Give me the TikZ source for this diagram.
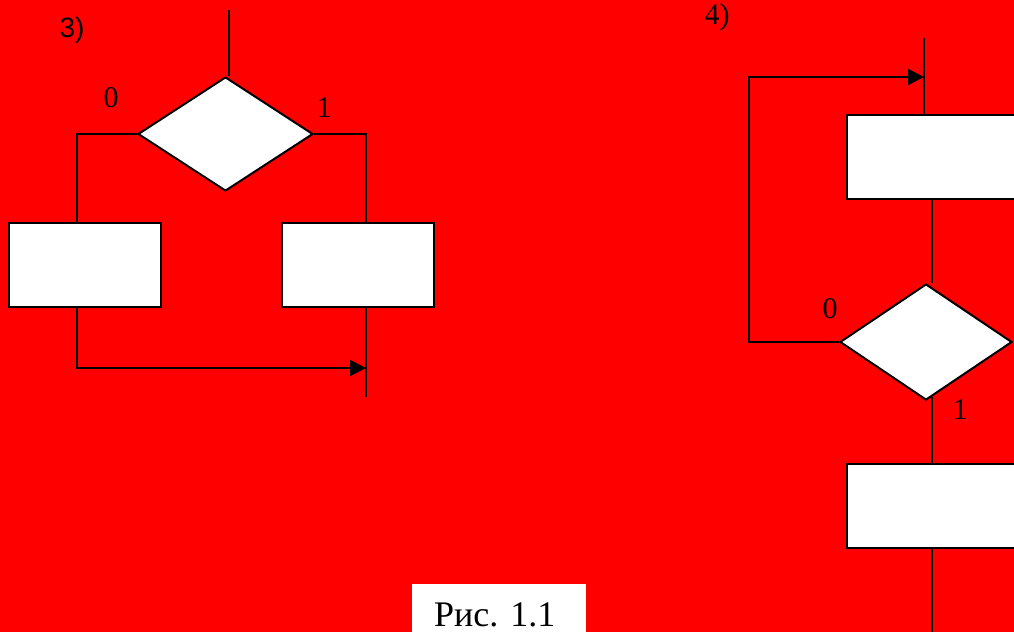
\documentclass[tikz,border=0pt]{standalone}
\usepackage{fontspec}
\setmainfont{Liberation Serif}
\newfontfamily\arialfont{Liberation Sans}
\usetikzlibrary{shapes.geometric,arrows.meta}
\begin{document}
\begin{tikzpicture}[x=1pt,y=-1pt,
  line width=2pt,
  block/.style={draw, fill=white, minimum width=152pt, minimum height=84pt, inner sep=0pt},
  wideblock/.style={block, minimum width=170pt},
  cond/.style={draw, fill=white, diamond, inner sep=0pt},
  lbl/.style={font=\fontsize{30}{32}\selectfont, inner sep=0pt},
  flow/.style={-{Triangle[length=16pt,width=16pt]}}
]
% background and page frame
\fill[red] (0,0) rectangle (1014,632);
\useasboundingbox (0,0) rectangle (1014,632);

% ---------- 3) branching ----------
\node[lbl, font=\arialfont\fontsize{28}{30}\selectfont] (n3) at (72,30) {3)};
\coordinate (t3) at (229,10);
\node[cond, minimum width=175pt, minimum height=114pt] (d3) at (225.5,134) {};
\node[block] (b3l) at (84.5,264.5) {};
\node[block] (b3r) at (358,264.5) {};
\coordinate (l3) at (77,223);
\coordinate (r3) at (366,223);
\coordinate (j3) at (366,368);
\coordinate (e3) at (366,397);

\draw (t3) -- (t3 |- d3.north);
\draw (d3.west) -| (l3);
\draw (d3.east) -| (r3);
\draw[flow] (l3 |- b3l.south) |- (j3);
\draw (r3 |- b3r.south) -- (e3);
\node[lbl] (z3) at (111,98) {0};
\node[lbl] (o3) at (324,108) {1};

% ---------- 4) loop ----------
\node[lbl] (n4) at (717,17) {4)};
\coordinate (t4) at (924,38);
\node[wideblock] (b4a) at (931.5,157) {};
\node[cond, minimum width=172pt, minimum height=116pt] (d4) at (926,342) {};
\node[wideblock] (b4b) at (931.5,506) {};
\coordinate (lp) at (749,77);
\coordinate (e4) at (931.5,632);

\draw (t4) -- (t4 |- b4a.north);
\draw[flow] (d4.west) -| (lp) -- (t4 |- lp);
\draw (b4a.south) -- (b4a.south |- d4.north);
\draw ([yshift=4pt]b4b.north |- d4.south) -- (b4b.north);
\draw (b4b.south) -- (e4);
\node[lbl] (z4) at (830,309) {0};
\node[lbl] (o4) at (960,410) {1};

% ---------- caption ----------
\node[fill=white, minimum width=174pt, minimum height=52pt, inner sep=0pt, anchor=north west] (cap) at (411,583) {};
\node[font=\fontsize{36}{40}\selectfont, inner sep=0pt, anchor=base west] (capt) at (433,626) {Рис. 1.1};
\end{tikzpicture}
\end{document}
